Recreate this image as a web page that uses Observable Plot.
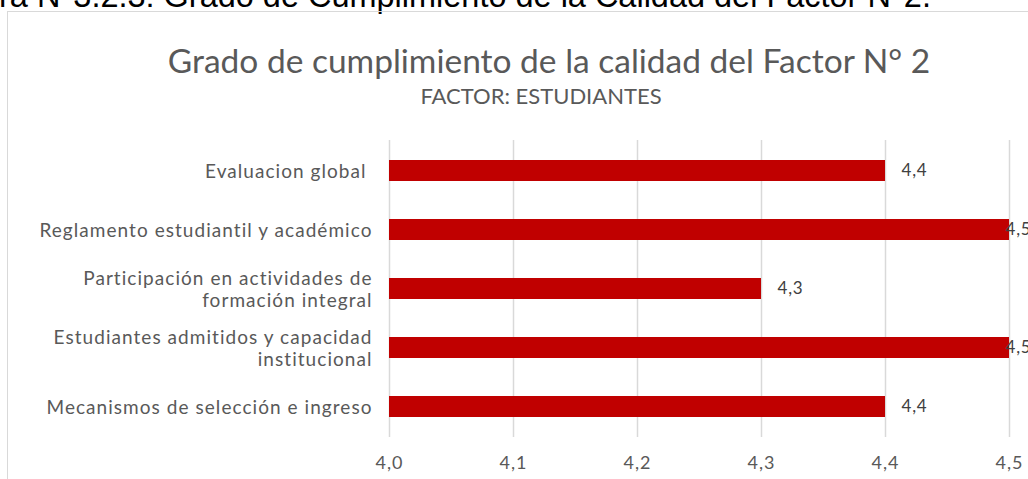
<!DOCTYPE html>
<html>
<head>
<meta charset="utf-8">
<script src="https://cdn.jsdelivr.net/npm/d3@7"></script>
<script src="https://cdn.jsdelivr.net/npm/@observablehq/plot@0.6"></script>
<style>
  html, body { margin: 0; padding: 0; background: #fff; }
  body { width: 1028px; height: 479px; overflow: hidden; position: relative; }
  #caption { position: absolute; white-space: nowrap; font-family: "Liberation Sans", Arial, sans-serif; color: #000; line-height: 1; }
  #frame { position: absolute; left: 7px; top: 11px; width: 1100px; height: 600px; border: 1.5px solid #d9d9d9; box-sizing: border-box; }
  .t { position: absolute; left: 0; text-align: center; font-family: Lato, sans-serif; color: #595959; white-space: nowrap; line-height: 1; }
  #title { width: 1098px; top: 43.5px; font-size: 33.5px; }
  #subtitle { width: 1082px; top: 84.5px; font-size: 22px; }
  #chart { position: absolute; left: 0; top: 0; }
  #chart g[aria-label="y-axis tick label"] text { letter-spacing: 1.05px; }
  #chart g[aria-label="x-axis tick label"] text { letter-spacing: 1px; }
  #chart g[aria-label="text"] text { letter-spacing: 0.8px; }
</style>
</head>
<body>
<div id="caption"></div>
<div id="frame"></div>
<div id="title" class="t"></div>
<div id="subtitle" class="t"></div>
<div id="chart"></div>
<script>
// ---- data ----
const captionText = "Figura N°3.2.3: Grado de Cumplimiento de la Calidad del Factor N°2.";
const titleText = "Grado de cumplimiento de la calidad del Factor N° 2";
const subtitleText = "FACTOR: ESTUDIANTES";
const categories = [
  "Evaluacion global\u00a0",
  "Reglamento estudiantil y académico",
  "Participación en actividades de\nformación integral",
  "Estudiantes admitidos y capacidad\ninstitucional",
  "Mecanismos de selección e ingreso"
];
const values = [4.4, 4.5, 4.3, 4.5, 4.4];
const xTicks = [4.0, 4.1, 4.2, 4.3, 4.4, 4.5];

// ---- texts ----
const fmt = v => v.toFixed(1).replace(".", ",");
document.getElementById("title").textContent = titleText;
document.getElementById("subtitle").textContent = subtitleText;

const cap = document.getElementById("caption");
cap.textContent = captionText;
const ctx = document.createElement("canvas").getContext("2d");
ctx.font = "100px 'Liberation Sans'";
const hidden = captionText.slice(0, 4);
const visW = ctx.measureText(captionText.slice(4)).width;
const capSize = 932 / visW * 100;
const hidW = ctx.measureText(hidden).width * capSize / 100;
cap.style.fontSize = capSize + "px";
cap.style.left = (-hidW - 1) + "px";
cap.style.top = (7.5 - 0.8465 * capSize) + "px";

// ---- chart ----
const data = categories.map((c, i) => ({category: c, value: values[i]}));
const xMin = xTicks[0], xMax = xTicks[xTicks.length - 1];

const plot = Plot.plot({
  width: 1028,
  height: 479,
  marginLeft: 389,
  marginRight: 19,
  marginTop: 140,
  marginBottom: 42,
  style: {fontFamily: "Lato, sans-serif", color: "#595959", background: "transparent", overflow: "visible"},
  x: {domain: [xMin, xMax]},
  y: {domain: categories, paddingInner: 0.646, paddingOuter: 0.323},
  marks: [
    Plot.gridX(xTicks, {stroke: "#d9d9d9", strokeOpacity: 1, strokeWidth: 1.5}),
    Plot.barX(data, {y: "category", x1: () => xMin, x2: "value", fill: "#C00000"}),
    Plot.axisX(xTicks, {tickSize: 0, tickPadding: 19, tickFormat: fmt, fontSize: 18, fill: "#595959", label: null}),
    Plot.axisY({tickSize: 0, tickPadding: 17, fontSize: 19, lineHeight: 1.15, fill: "#595959", label: null}),
    Plot.text(data.filter(d => d.value < xMax), {x: "value", y: "category", text: d => fmt(d.value), dx: 16, textAnchor: "start", fontSize: 17, fill: "#404040"}),
    Plot.text(data.filter(d => d.value >= xMax), {x: "value", y: "category", text: d => fmt(d.value), dx: -4, textAnchor: "start", fontSize: 17, fill: "#404040"})
  ]
});
document.getElementById("chart").appendChild(plot);
</script>
</body>
</html>
